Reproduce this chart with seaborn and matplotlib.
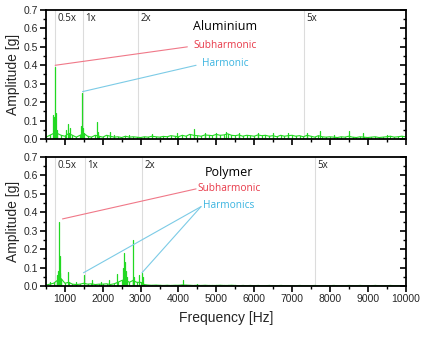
import numpy as np
import pandas as pd
import matplotlib
matplotlib.use("Agg")
import matplotlib.pyplot as plt
import seaborn as sns
from matplotlib.ticker import MultipleLocator

sns.set_theme(style="white")
plt.rcParams['font.family'] = ['Liberation Sans', 'DejaVu Sans']

# ---------------- data ----------------
floor_freq = list(range(500, 10001, 100))

alu_floor = [0.01, 0.02, 0.03, 0.03, 0.02,
             0.015, 0.03, 0.02, 0.01, 0.02, 0.03, 0.015, 0.01, 0.02, 0.015,
             0.01, 0.02, 0.015, 0.01, 0.012, 0.008, 0.015, 0.01, 0.012, 0.01,
             0.008, 0.012, 0.01, 0.015, 0.012, 0.01, 0.014, 0.012, 0.018, 0.015,
             0.012, 0.02, 0.015, 0.025, 0.02, 0.018, 0.015, 0.022, 0.02, 0.018,
             0.025, 0.02, 0.022, 0.028, 0.02, 0.018, 0.022, 0.015, 0.02, 0.018,
             0.015, 0.022, 0.018, 0.02, 0.015, 0.018, 0.012, 0.02, 0.015, 0.018,
             0.02, 0.015, 0.018, 0.012, 0.02, 0.015, 0.01, 0.018, 0.012, 0.01,
             0.012, 0.01, 0.008, 0.012, 0.01, 0.015, 0.01, 0.008, 0.012, 0.01,
             0.008, 0.01, 0.012, 0.008, 0.01, 0.012, 0.015, 0.01, 0.012, 0.015,
             0.012]

poly_floor = [0.005, 0.01, 0.015, 0.03, 0.04,
              0.015, 0.02, 0.01, 0.008, 0.01, 0.015, 0.01, 0.012, 0.008, 0.01,
              0.01, 0.012, 0.008, 0.012, 0.02, 0.03, 0.035, 0.02, 0.03, 0.02,
              0.02, 0.008, 0.005, 0.004, 0.005, 0.004, 0.003, 0.004, 0.003, 0.004,
              0.004, 0.006, 0.005, 0.004, 0.003, 0.004, 0.003, 0.004, 0.003, 0.003,
              0.003, 0.004, 0.003, 0.003, 0.004, 0.003, 0.002, 0.003, 0.002, 0.003,
              0.002, 0.003, 0.002, 0.002, 0.003, 0.002, 0.002, 0.003, 0.002, 0.002,
              0.002, 0.002, 0.003, 0.002, 0.002, 0.002, 0.003, 0.002, 0.002, 0.002,
              0.002, 0.003, 0.002, 0.002, 0.002, 0.003, 0.002, 0.002, 0.003, 0.002,
              0.002, 0.002, 0.003, 0.002, 0.002, 0.002, 0.003, 0.002, 0.002, 0.002,
              0.002]

alu_peak_freq = [690, 720, 743, 760, 800, 1040, 1070, 1140, 1430, 1450, 1480,
                 1847, 1870, 2190, 2300, 2700, 3300, 3950, 4420, 4700, 5000,
                 5250, 5600, 6100, 6500, 6900, 7400, 7730, 8100, 8500, 8870, 9500]
alu_peak_amp = [0.13, 0.12, 0.39, 0.14, 0.05, 0.05, 0.08, 0.058, 0.07, 0.25, 0.06,
                0.094, 0.04, 0.04, 0.02, 0.02, 0.025, 0.03, 0.053, 0.03, 0.035,
                0.04, 0.035, 0.03, 0.03, 0.035, 0.03, 0.045, 0.02, 0.045, 0.03, 0.02]

poly_peak_freq = [600, 780, 800, 820, 840, 860, 880, 900, 1070, 1300, 1492, 1714,
                  1950, 2153, 2375, 2530, 2550, 2595, 2620, 2650, 2790, 2810, 2830,
                  2966, 3026, 3060, 3500, 4110, 4500, 5000, 5500]
poly_peak_amp = [0.02, 0.03, 0.06, 0.08, 0.345, 0.163, 0.07, 0.04, 0.074, 0.02, 0.06,
                 0.035, 0.02, 0.03, 0.064, 0.10, 0.178, 0.13, 0.08, 0.05, 0.04, 0.25,
                 0.05, 0.06, 0.07, 0.05, 0.008, 0.03, 0.01, 0.008, 0.008]

alu_order_freq = [735, 1466, 2932, 7330]
poly_order_freq = [745, 1520, 3040, 7600]
order_labels = ["0.5x", "1x", "2x", "5x"]

panels = [
    dict(name="Aluminium", floor=alu_floor, pf=alu_peak_freq, pa=alu_peak_amp,
         orders=alu_order_freq,
         sub_line=([743, 4235], [0.40, 0.50]),
         harm_lines=[([1466, 4466], [0.257, 0.40])],
         harm_text="Harmonic", text_x=5240,
         title_y=0.61, sub_y=0.505, harm_y=0.41),
    dict(name="Polymer", floor=poly_floor, pf=poly_peak_freq, pa=poly_peak_amp,
         orders=poly_order_freq,
         sub_line=([937, 4466], [0.364, 0.527]),
         harm_lines=[([1492, 4598], [0.072, 0.431]), ([3037, 4598], [0.072, 0.431])],
         harm_text="Harmonics", text_x=5330,
         title_y=0.615, sub_y=0.53, harm_y=0.435),
]

# ---------------- figure ----------------
fig = plt.figure(figsize=(4.33, 3.38), dpi=100)
ax_pos = [[0.1062, 0.5888, 0.8303, 0.3816], [0.1062, 0.1538, 0.8303, 0.3817]]
green = "#22d822"
annot_font = ['Open Sans', 'DejaVu Sans']

for i, (p, pos) in enumerate(zip(panels, ax_pos)):
    ax = fig.add_axes(pos)
    # order lines
    for f in p["orders"]:
        sns.lineplot(x=[f, f], y=[0, 0.7], ax=ax, color="#dcdcdc", lw=0.8,
                     estimator=None, sort=False)
    # stems
    rows = []
    uid = 0
    for f, a in zip(floor_freq, p["floor"]):
        rows += [(uid, f, 0.0), (uid, f, a)]
        uid += 1
    for f, a in zip(p["pf"], p["pa"]):
        rows += [(uid, f, 0.0), (uid, f, a)]
        uid += 1
    df = pd.DataFrame(rows, columns=["u", "f", "a"])
    sns.lineplot(data=df, x="f", y="a", units="u", estimator=None, sort=False,
                 ax=ax, color=green, lw=0.9)
    # floor line
    sns.lineplot(x=floor_freq, y=p["floor"], ax=ax, color=green, lw=0.8,
                 estimator=None)

    ax.set_xlim(500, 10000)
    ax.set_ylim(0, 0.7)
    ax.xaxis.set_major_locator(MultipleLocator(1000))
    ax.xaxis.set_minor_locator(MultipleLocator(500))
    ax.yaxis.set_major_locator(MultipleLocator(0.1))
    ax.yaxis.set_minor_locator(MultipleLocator(0.05))
    ax.yaxis.set_major_formatter(matplotlib.ticker.FormatStrFormatter('%.1f'))
    ax.tick_params(axis='both', which='both', labelsize=7.5, color='black', pad=1.5)
    ax.tick_params(axis='x', which='major', direction='out', length=4, width=1.2, bottom=True)
    ax.tick_params(axis='x', which='minor', direction='out', length=2.5, width=1.0, bottom=True)
    ax.tick_params(axis='y', which='major', direction='out', length=4, width=1.2, left=True)
    ax.tick_params(axis='y', which='minor', direction='out', length=2.5, width=1.0, left=True)
    for sp in ax.spines.values():
        sp.set_color('black')
        sp.set_linewidth(1.3)
    ax.set_ylabel("Amplitude [g]", fontsize=10, labelpad=3)
    if i == 0:
        ax.set_xticklabels([])
        ax.set_xlabel("")
    else:
        ax.set_xlabel("Frequency [Hz]", fontsize=10, labelpad=5)

    # right-side inward ticks
    axr = ax.twinx()
    axr.set_ylim(0, 0.7)
    axr.yaxis.set_major_locator(MultipleLocator(0.1))
    axr.yaxis.set_minor_locator(MultipleLocator(0.05))
    axr.tick_params(axis='y', which='major', direction='in', length=4, width=1.2,
                    right=True, labelright=False, color='black')
    axr.tick_params(axis='y', which='minor', direction='in', length=2.5, width=1.0,
                    right=True, labelright=False, color='black')
    axr.grid(False)
    for sp in axr.spines.values():
        sp.set_visible(False)

    # order labels
    for f, lab in zip(p["orders"], order_labels):
        ax.text(f + 60, 0.685, lab, fontsize=7, va='top', ha='left',
                family=annot_font, color='#222222')
    # annotation lines
    sx, sy = p["sub_line"]
    sns.lineplot(x=sx, y=sy, ax=ax, color="#f07888", lw=0.8, estimator=None, sort=False)
    for hx, hy in p["harm_lines"]:
        sns.lineplot(x=hx, y=hy, ax=ax, color="#7ccbe6", lw=0.8, estimator=None, sort=False)
    ax.text(p["text_x"], p["title_y"], p["name"], fontsize=9, ha='center', va='center',
            family=annot_font, color='black')
    ax.text(p["text_x"], p["sub_y"], "Subharmonic", fontsize=7.3, ha='center', va='center',
            family=annot_font, color='#e83848')
    ax.text(p["text_x"], p["harm_y"], p["harm_text"], fontsize=7.3, ha='center', va='center',
            family=annot_font, color='#3ab4e0')

fig.savefig("out.png", dpi=100)
